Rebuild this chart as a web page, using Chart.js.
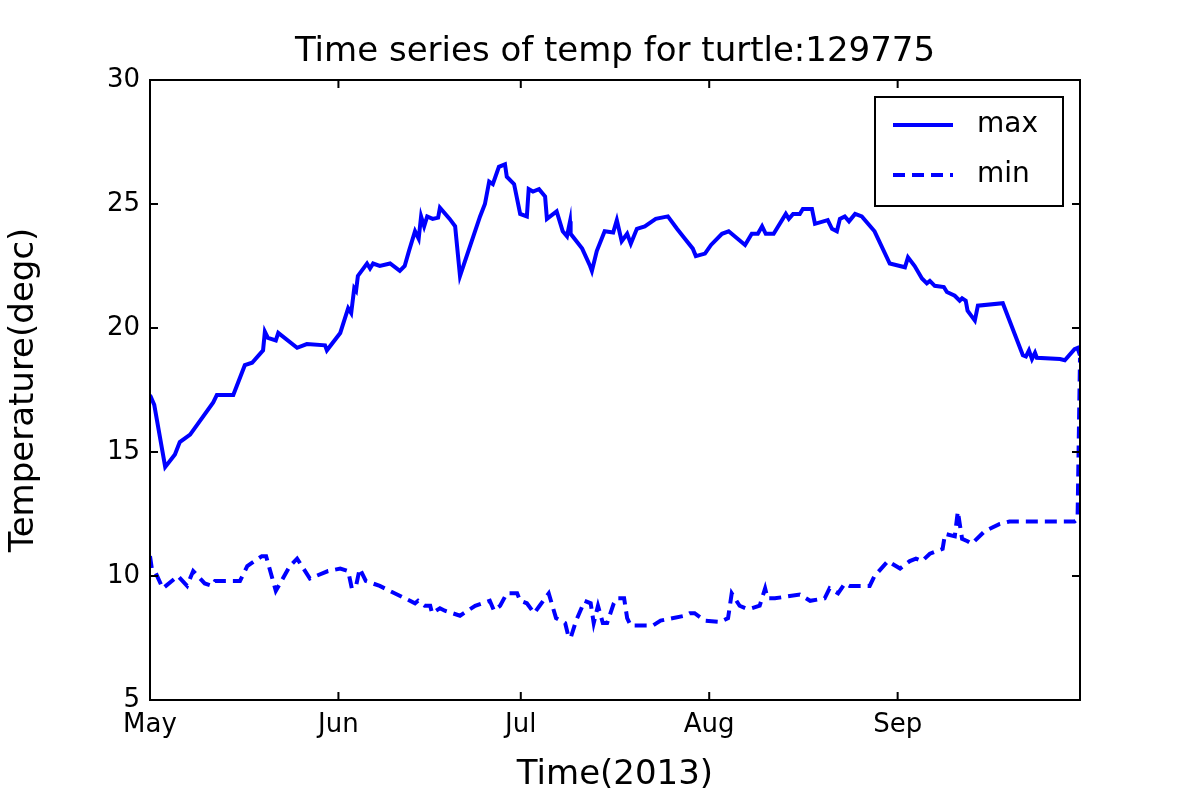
<!DOCTYPE html>
<html><head><meta charset="utf-8">
<script src="https://cdn.jsdelivr.net/npm/chart.js@4/dist/chart.umd.min.js"></script>
<style>body{margin:0;background:#fff}#wrap{width:1200px;height:800px}</style>
</head><body><div id="wrap"><canvas id="chart" width="1200" height="800"></canvas></div>
<script>
// days since 1 May 2013
const maxDays = [0,0.7,2.5,4.1,4.9,6.6,10.4,11.0,13.7,15.6,16.8,18.6,18.9,19.4,20.7,21.1,24.2,25.8,28.8,29.1,31.3,32.6,33.1,33.6,33.9,34.2,35.7,36.2,36.7,37.8,39.5,41.1,41.9,42.6,43.6,44.2,44.6,45.1,45.6,46.5,47.4,47.7,49.3,50.2,51.0,54.3,55.1,55.8,56.4,57.4,58.4,58.7,59.9,60.9,62.0,62.3,63.0,64.0,65.0,65.3,66.9,67.9,68.6,69.1,69.2,71.1,72.4,72.7,73.5,74.8,76.2,76.8,77.6,78.5,79.1,80.1,81.4,83.2,85.2,86.7,88.0,89.3,89.8,91.3,92.3,94.1,95.2,97.9,99.0,100.0,100.7,101.3,102.6,104.6,105.1,105.8,106.9,107.4,108.9,109.4,111.5,112.2,113.0,113.5,114.3,115.0,116.0,117.1,119.2,121.7,124.2,124.7,125.8,127.0,127.8,128.3,129.1,130.6,131.1,132.4,133.2,133.6,134.2,134.5,135.7,136.2,140.3,143.6,144.1,144.6,145.1,145.6,145.9,149.7,150.5,152.1,152.6,153.0];
const maxTemp = [17.3,16.9,14.4,14.9,15.4,15.7,17.0,17.3,17.3,18.5,18.6,19.1,19.85,19.6,19.5,19.8,19.2,19.35,19.3,19.1,19.8,20.8,20.6,21.6,21.5,22.1,22.6,22.4,22.6,22.5,22.6,22.3,22.5,23.1,23.9,23.6,24.5,24.1,24.5,24.4,24.45,24.85,24.4,24.1,22.1,24.5,25.0,25.9,25.8,26.5,26.6,26.1,25.8,24.6,24.5,25.6,25.5,25.6,25.3,24.4,24.7,23.9,23.7,24.3,23.8,23.2,22.5,22.3,23.1,23.9,23.85,24.35,23.5,23.8,23.4,24.0,24.1,24.4,24.5,24.0,23.6,23.2,22.9,23.0,23.35,23.8,23.9,23.35,23.8,23.8,24.1,23.8,23.8,24.6,24.4,24.6,24.6,24.8,24.8,24.2,24.35,24.0,23.9,24.4,24.5,24.3,24.6,24.5,23.9,22.6,22.45,22.85,22.5,22.0,21.8,21.9,21.7,21.65,21.45,21.3,21.1,21.2,21.1,20.7,20.3,20.9,21.0,18.9,18.85,19.1,18.75,19.0,18.8,18.75,18.7,19.15,19.2,18.9];
const minDays = [0,0.3,0.8,2.1,4.6,6.1,7.1,9.0,10.2,10.7,14.8,16.0,18.4,19.1,20.7,21.4,23.0,24.2,26.3,29.3,31.3,32.6,33.2,33.9,34.5,35.5,37.8,43.6,44.1,45.2,46.1,46.4,47.7,48.5,51.0,53.5,55.9,56.6,57.6,58.7,60.4,60.9,62.0,63.2,64.1,65.6,66.8,68.3,68.8,69.2,70.1,71.5,72.5,73.0,73.7,74.5,75.2,76.3,76.8,78.0,78.5,79.1,81.1,82.7,84.0,88.0,88.8,89.6,91.3,93.8,95.1,95.7,97.0,98.0,99.0,100.3,101.2,101.6,102.8,106.9,108.6,111.0,111.8,113.2,114.3,115.1,118.4,119.2,121.4,123.4,125.0,126.0,127.0,128.3,130.4,130.8,132.4,132.9,133.6,134.5,135.2,137.3,139.8,141.4,152.1,152.6,153.0];
const minTemp = [10.8,10.3,10.2,9.5,10.0,9.6,10.2,9.7,9.6,9.8,9.8,10.4,10.8,10.8,9.4,9.7,10.4,10.7,9.9,10.2,10.3,10.2,9.5,9.6,10.3,9.8,9.6,8.9,9.0,8.8,8.8,8.5,8.7,8.6,8.4,8.8,9.0,8.6,8.8,9.3,9.3,9.0,8.9,8.5,8.8,9.3,8.3,8.1,7.6,7.5,8.2,9.0,8.9,8.1,8.8,8.1,8.1,8.9,9.1,9.1,8.3,8.0,8.0,8.0,8.2,8.4,8.5,8.5,8.2,8.15,8.3,9.3,8.8,8.7,8.7,8.8,9.5,9.1,9.1,9.25,9.0,9.1,9.5,9.3,9.7,9.6,9.6,10.0,10.6,10.3,10.6,10.7,10.6,10.9,11.1,11.7,11.6,12.6,11.5,11.4,11.3,11.8,12.1,12.2,12.2,12.3,18.8];
const monthTicks = [0, 31, 61, 92, 123];
const monthLabels = ["May", "Jun", "Jul", "Aug", "Sep"];
const seriesNames = ["max", "min"];

const font = "'DejaVu Sans', sans-serif";
const pts = (xs, ys) => xs.map((x, i) => ({ x, y: ys[i] }));

const frame = {
  id: "frame",
  afterDraw(chart) {
    const { ctx, chartArea: a, scales } = chart;
    ctx.save();
    ctx.strokeStyle = "#000";
    ctx.lineWidth = 2;
    ctx.strokeRect(a.left, a.top, a.right - a.left, a.bottom - a.top);
    // inward ticks
    ctx.beginPath();
    scales.y.ticks.forEach((t) => {
      const y = scales.y.getPixelForValue(t.value);
      ctx.moveTo(a.left, y); ctx.lineTo(a.left + 8, y);
      ctx.moveTo(a.right, y); ctx.lineTo(a.right - 8, y);
    });
    monthTicks.forEach((v) => {
      const x = scales.x.getPixelForValue(v);
      ctx.moveTo(x, a.bottom); ctx.lineTo(x, a.bottom - 8);
      ctx.moveTo(x, a.top); ctx.lineTo(x, a.top + 8);
    });
    ctx.stroke();
    // title
    ctx.fillStyle = "#000";
    ctx.font = "34px " + font;
    ctx.textAlign = "center";
    ctx.textBaseline = "middle";
    ctx.fillText("Time series of temp for turtle:129775", (a.left + a.right) / 2, 52);
    // legend
    const lx = a.right - 205, ly = a.top + 17, lw = 188, lh = 109;
    ctx.fillStyle = "#fff";
    ctx.fillRect(lx, ly, lw, lh);
    ctx.strokeRect(lx, ly, lw, lh);
    ctx.strokeStyle = "#0000ff";
    ctx.lineWidth = 4;
    ctx.font = "28px " + font;
    ctx.textAlign = "left";
    ctx.fillStyle = "#000";
    seriesNames.forEach((n, i) => {
      const y = ly + 28 + i * 50;
      ctx.setLineDash(i ? [12, 7] : []);
      ctx.beginPath(); ctx.moveTo(lx + 18, y); ctx.lineTo(lx + 78, y); ctx.stroke();
      ctx.fillText(n, lx + 102, y);
    });
    ctx.restore();
  },
};

new Chart(document.getElementById("chart"), {
  type: "line",
  data: {
    datasets: [
      { label: seriesNames[0], data: pts(maxDays, maxTemp), borderColor: "#0000ff", borderWidth: 4, pointRadius: 0, tension: 0 },
      { label: seriesNames[1], data: pts(minDays, minTemp), borderColor: "#0000ff", borderWidth: 4, borderDash: [12, 7], pointRadius: 0, tension: 0 },
    ],
  },
  options: {
    responsive: false,
    animation: false,
    layout: { padding: { top: 80, right: 120, left: 0, bottom: 0 } },
    plugins: { legend: { display: false }, tooltip: { enabled: false } },
    scales: {
      x: {
        type: "linear", min: 0, max: 153,
        afterBuildTicks: (s) => { s.ticks = monthTicks.map((v) => ({ value: v })); },
        afterFit: (s) => { s.height = 100; },
        grid: { display: false, drawTicks: false },
        border: { display: false },
        ticks: { color: "#000", font: { family: font, size: 26 }, padding: 10, maxRotation: 0,
          callback: (v) => monthLabels[monthTicks.indexOf(v)] },
        title: { display: true, text: "Time(2013)", color: "#000", font: { family: font, size: 34 }, padding: { top: 4 } },
      },
      y: {
        min: 5, max: 30,
        afterFit: (s) => { s.width = 150; },
        grid: { display: false, drawTicks: false },
        border: { display: false },
        ticks: { stepSize: 5, color: "#000", font: { family: font, size: 26 }, padding: 10 },
        title: { display: true, text: "Temperature(degc)", color: "#000", font: { family: font, size: 34 }, padding: { bottom: 8 } },
      },
    },
  },
  plugins: [frame],
});
</script>
</body></html>
